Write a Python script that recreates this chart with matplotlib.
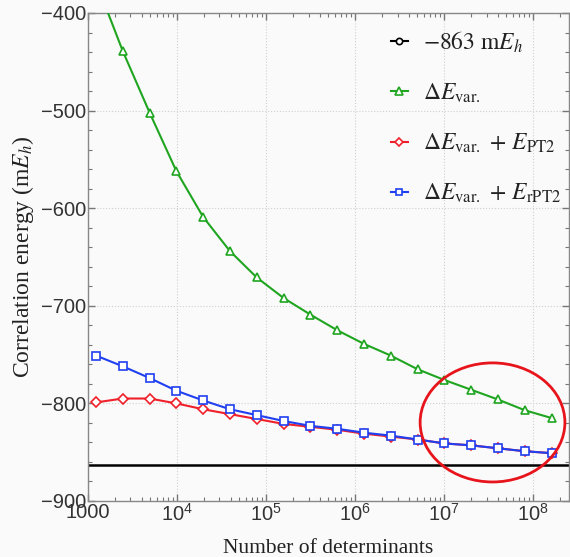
import math
import matplotlib
matplotlib.use('Agg')
import matplotlib.pyplot as plt
from matplotlib.patches import Ellipse
from matplotlib.ticker import FixedLocator, LogLocator, MultipleLocator, FuncFormatter

plt.rcParams['mathtext.fontset'] = 'stix'

# Datos
ndets = [1229, 2458, 4915, 9830, 19661, 39322, 78643, 157286, 314573, 629146,
         1258291, 2516582, 5033165, 10066330, 20132659, 40265318, 80530637, 161061274]
e_var = [-368, -439, -502, -562, -609, -644, -671, -692, -709, -725,
         -739, -751, -765, -776, -786, -796, -807, -815]
e_pt2 = [-799, -795, -795, -800, -806, -811, -816, -821, -824, -827,
         -831, -834, -837, -841, -843, -846, -849, -851]
e_rpt2 = [-751, -762, -774, -787, -797, -806, -812, -818, -823, -826,
          -830, -833, -837, -841, -843, -846, -849, -851]
e_ref = -863

fig = plt.figure(figsize=(5.7, 5.57), dpi=100, facecolor='#fafafa')
ax = fig.add_axes([88/570, 56/557, 481/570, 488/557], facecolor='#fafafa')

ax.axhline(e_ref, color='black', lw=1.8, zorder=2)
mk = dict(markerfacecolor='white', markersize=6, markeredgewidth=1.2, lw=1.5)
ax.plot(ndets, e_var, '-^', color='#1fa51f', **mk, zorder=3)
ax.plot(ndets, e_pt2, '-D', color='#f0202a', **dict(mk, markersize=5), zorder=3)
ax.plot(ndets, e_rpt2, '-s', color='#1f3ff0', **dict(mk, markersize=5.5), zorder=4)

ax.set_xscale('log')
ax.set_xlim(1000, 2.53e8)
ax.set_ylim(-900, -400)

ax.yaxis.set_major_locator(MultipleLocator(100))
ax.yaxis.set_minor_locator(MultipleLocator(20))
ax.xaxis.set_major_locator(FixedLocator([1e3, 1e4, 1e5, 1e6, 1e7, 1e8]))
ax.xaxis.set_minor_locator(LogLocator(base=10, subs=range(2, 10), numticks=20))


def fmt_x(v, pos):
    if v < 5000:
        return '1000'
    return r'$\mathregular{10^{%d}}$' % round(math.log10(v))


ax.xaxis.set_major_formatter(FuncFormatter(fmt_x))
ax.yaxis.set_major_formatter(FuncFormatter(lambda v, p: '\u2212%d' % abs(v)))

ax.tick_params(which='both', direction='in', top=True, right=True, color='#777777',
               labelsize=14.5, labelcolor='#333333')
ax.tick_params(which='major', length=5, width=1, pad=1.5)
ax.tick_params(which='minor', length=3, width=0.8)
for t in ax.get_xticklabels() + ax.get_yticklabels():
    t.set_fontfamily('Liberation Sans')
for s in ax.spines.values():
    s.set_color('#888888')
    s.set_linewidth(1)

ax.grid(True, which='major', ls=':', color='#d0d0d0', lw=0.8)
ax.set_axisbelow(True)

ax.set_xlabel('Number of determinants', family='Liberation Serif', fontsize=15.5,
              color='#222222', labelpad=10)
ax.set_ylabel(r'Correlation energy (m$E_h$)', family='Liberation Serif', fontsize=17,
              color='#222222', labelpad=3)

# Leyenda
h0, = ax.plot([], [], '-o', color='black', **dict(mk, markersize=5))
h1, = ax.plot([], [], '-^', color='#1fa51f', **mk)
h2, = ax.plot([], [], '-D', color='#f0202a', **dict(mk, markersize=5))
h3, = ax.plot([], [], '-s', color='#1f3ff0', **dict(mk, markersize=5.5))
leg = ax.legend([h0, h1, h2, h3],
                [r'$-863\ \mathrm{m}E_h$', r'$\Delta E_{\mathrm{var.}}$',
                 r'$\Delta E_{\mathrm{var.}}\,+\,E_{\mathrm{PT2}}$',
                 r'$\Delta E_{\mathrm{var.}}\,+\,E_{\mathrm{rPT2}}$'],
                loc='upper left', bbox_to_anchor=(0.585, 1.01), frameon=False,
                fontsize=17, handlelength=0.75, handletextpad=0.6, labelspacing=1.1,
                markerscale=0.9)
for t in leg.get_texts():
    t.set_color('#222222')

# Elipse roja de anotacion
ax.add_patch(Ellipse((0.841, 0.161), 0.301, 0.244, transform=ax.transAxes,
                     fill=False, edgecolor='#e8141c', lw=2, zorder=6, clip_on=False))

fig.savefig('out.png', dpi=100, facecolor=fig.get_facecolor())
